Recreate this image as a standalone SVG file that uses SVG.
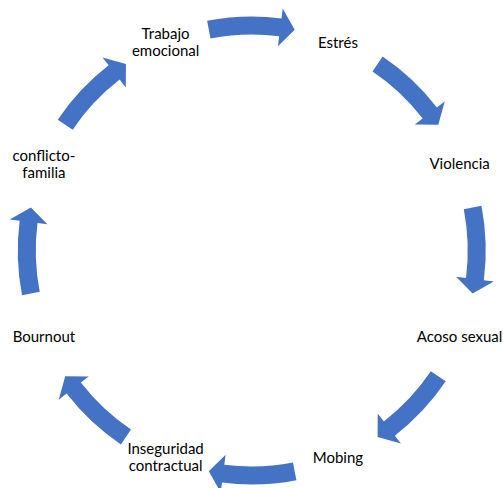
<svg xmlns="http://www.w3.org/2000/svg" xmlns:xlink="http://www.w3.org/1999/xlink" width="503" height="488" viewBox="0 0 503 488">
<style>
.lbl{font-family:Lato,"Liberation Sans",Arial,sans-serif;font-size:15px;fill:#000;text-anchor:middle}
.arr{fill:#4472C4}
</style>
<defs>
<path id="arc" class="arr" d="M -44.65,-229.70 A 234 234 0 0 1 29.73,-232.10 L 31.00,-242.02 L 42.93,-220.87 L 26.17,-204.33 L 27.44,-214.25 A 216 216 0 0 0 -41.21,-212.03 Z"/>
</defs>
<rect width="503" height="488" fill="#fff"/>
<g id="connectors" transform="translate(251.75,250.5)">
<use xlink:href="#arc" href="#arc"/>
<use xlink:href="#arc" href="#arc" transform="rotate(45)"/>
<use xlink:href="#arc" href="#arc" transform="rotate(90)"/>
<use xlink:href="#arc" href="#arc" transform="rotate(135)"/>
<use xlink:href="#arc" href="#arc" transform="rotate(180)"/>
<use xlink:href="#arc" href="#arc" transform="rotate(225)"/>
<use xlink:href="#arc" href="#arc" transform="rotate(270)"/>
<use xlink:href="#arc" href="#arc" transform="rotate(315)"/>
</g>
<g id="n-trabajo"><text class="lbl" x="165.6" y="38.6">Trabajo</text><text class="lbl" x="165.6" y="55.6">emocional</text></g>
<g id="n-estres"><text class="lbl" x="337.9" y="47.6">Estrés</text></g>
<g id="n-violencia"><text class="lbl" x="459.6" y="169">Violencia</text></g>
<g id="n-acoso"><text class="lbl" x="459.6" y="341.6">Acoso sexual</text></g>
<g id="n-mobing"><text class="lbl" x="337.9" y="463.4">Mobing</text></g>
<g id="n-inseguridad"><text class="lbl" x="165.6" y="454.4">Inseguridad</text><text class="lbl" x="165.6" y="471.4">contractual</text></g>
<g id="n-bournout"><text class="lbl" x="43.9" y="341.6">Bournout</text></g>
<g id="n-conflicto"><text class="lbl" x="43.9" y="160.9">conflicto-</text><text class="lbl" x="43.9" y="177.9">familia</text></g>
</svg>
